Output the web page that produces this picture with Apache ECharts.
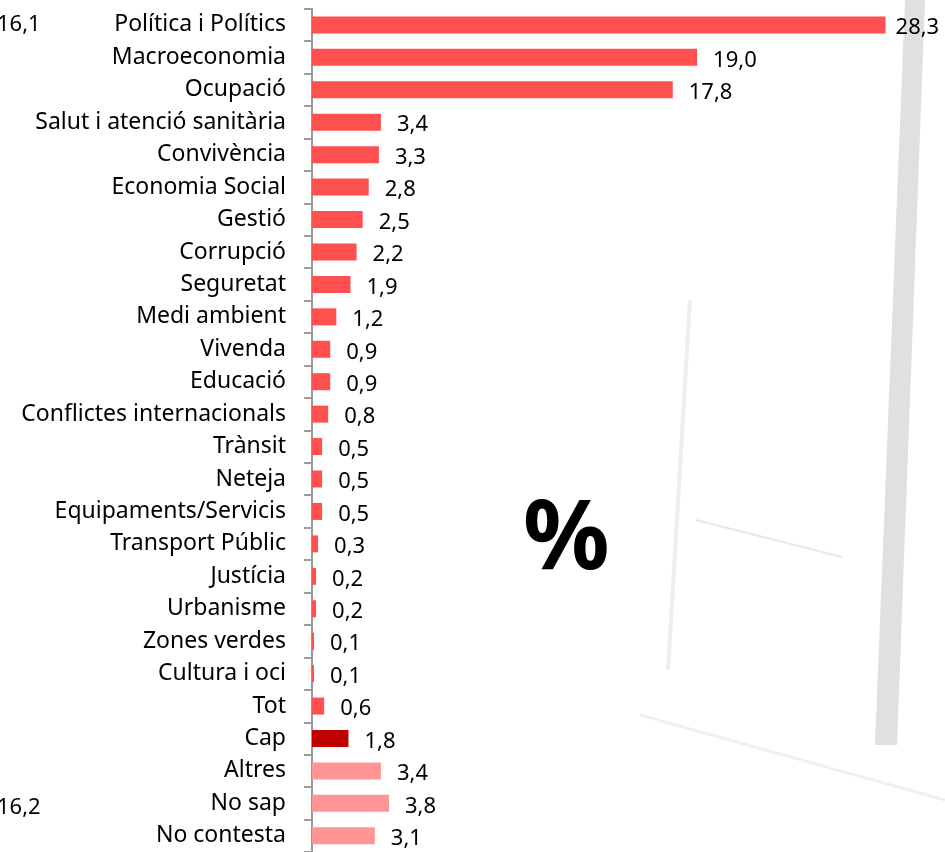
<!DOCTYPE html>
<html>
<head>
<meta charset="utf-8">
<title>Problemes principals</title>
<script src="https://cdn.jsdelivr.net/npm/echarts@6/dist/echarts.min.js"></script>
<style>
  html, body { margin: 0; padding: 0; background: #fff; }
  #chart { width: 945px; height: 852px; }
</style>
</head>
<body>
<div id="chart"></div>
<script>
// problemes principals (%), de dalt a baix
var categories = ['Política i Polítics', 'Macroeconomia', 'Ocupació', 'Salut i atenció sanitària',
    'Convivència', 'Economia Social', 'Gestió', 'Corrupció', 'Seguretat', 'Medi ambient',
    'Vivenda', 'Educació', 'Conflictes internacionals', 'Trànsit', 'Neteja',
    'Equipaments/Servicis', 'Transport Públic', 'Justícia', 'Urbanisme', 'Zones verdes',
    'Cultura i oci', 'Tot', 'Cap', 'Altres', 'No sap', 'No contesta'];
var values = [28.3, 19.0, 17.8, 3.4, 3.3, 2.8, 2.5, 2.2, 1.9, 1.2,
    0.9, 0.9, 0.8, 0.5, 0.5, 0.5, 0.3, 0.2, 0.2, 0.1,
    0.1, 0.6, 1.8, 3.4, 3.8, 3.1];
var sideValues = ['16,1', '16,2'];

var font = '"Noto Sans", "Open Sans", sans-serif';

var chart = echarts.init(document.getElementById('chart'));

function barColor(name) {
    if (name === 'Cap') return '#c00000';
    if (name === 'Altres' || name === 'No sap' || name === 'No contesta') return '#ff9595';
    return '#ff5050';
}

var barData = values.map(function (v, i) {
    var item = { value: v, itemStyle: { color: barColor(categories[i]) } };
    if (i === 0) item.label = { distance: 10 };
    return item;
});

option = {
    backgroundColor: '#ffffff',
    animation: false,
    grid: {
        left: 312,
        top: 8.7,
        width: 608,
        height: 847.6
    },
    xAxis: {
        type: 'value',
        min: 0,
        max: 30,
        show: false
    },
    yAxis: {
        type: 'category',
        inverse: true,
        data: categories,
        axisLine: { show: true, lineStyle: { color: '#9a9a9a', width: 2 } },
        axisTick: { show: true, length: 8, lineStyle: { color: '#9a9a9a', width: 2 } },
        axisLabel: {
            margin: 26,
            color: '#000',
            fontFamily: font,
            fontSize: 23,
            padding: [4, 0, 0, 0]
        }
    },
    graphic: [
        // fons: marc de finestra esvaït
        { type: 'polygon', silent: true, z: -10,
          shape: { points: [[905, 0], [925, 0], [897, 745], [875, 745]] },
          style: { fill: '#e0e0e0' } },
        { type: 'polygon', silent: true, z: -10,
          shape: { points: [[688, 300], [692, 300], [670, 670], [666, 670]] },
          style: { fill: '#eeeeee' } },
        { type: 'line', silent: true, z: -10, shape: { x1: 696, y1: 520, x2: 842, y2: 557 },
          style: { stroke: '#e8e8e8', lineWidth: 2 } },
        { type: 'line', silent: true, z: -10, shape: { x1: 640, y1: 715, x2: 945, y2: 800 },
          style: { stroke: '#f0f0f0', lineWidth: 3 } },
        { type: 'text', left: 523, top: 494, style: {
            text: '%', fill: '#000', font: 'bold 96px ' + font } },
        { type: 'text', left: -3, top: 14, style: {
            text: sideValues[0], fill: '#000', font: '22px ' + font } },
        { type: 'text', left: -3, top: 797, style: {
            text: sideValues[1], fill: '#000', font: '22px ' + font } }
    ],
    series: [
        {
            type: 'bar',
            data: barData,
            barWidth: 17,
            label: {
                show: true,
                position: 'right',
                distance: 16,
                offset: [0, 3],
                color: '#000',
                fontFamily: font,
                fontSize: 22,
                formatter: function (p) {
                    return p.value.toFixed(1).replace('.', ',');
                }
            }
        }
    ]
};

chart.setOption(option);
window.onresize = function () {
    chart.resize();
};
</script>
</body>
</html>
